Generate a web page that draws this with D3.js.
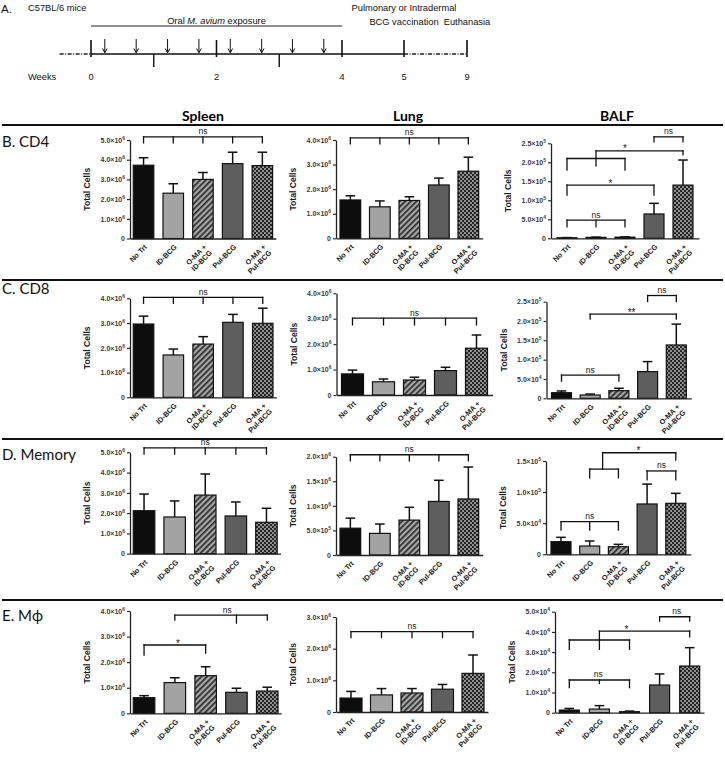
<!DOCTYPE html>
<html><head><meta charset="utf-8">
<script src="https://cdn.jsdelivr.net/npm/d3@7"></script>
<style>body{margin:0;background:#fff} svg{display:block}</style>
</head><body>
<script>
// ---------------- DATA ----------------
const categories = [["No Trt"],["ID-BCG"],["O-MA +","ID-BCG"],["Pul-BCG"],["O-MA +","Pul-BCG"]];
const columns = ["Spleen","Lung","BALF"];
const rows = ["B. CD4","C. CD8","D. Memory","E. M\u03d5"];

// timeline
const weekLabels = [0,2,4,5,9];
const minorWeeks = [1,3];
const doseWeeks = [0.22,0.72,1.22,1.72,2.22,2.72,3.21,3.71];

// means and SEM (upper error) per panel
const spleenCD4 = [3.72e6,2.30e6,3.00e6,3.80e6,3.70e6];
const spleenCD4Err = [0.38e6,0.48e6,0.35e6,0.58e6,0.68e6];
const lungCD4 = [1.56e6,1.28e6,1.54e6,2.17e6,2.73e6];
const lungCD4Err = [0.17e6,0.24e6,0.15e6,0.28e6,0.57e6];
const balfCD4 = [1500,2500,3000,64000,140000];
const balfCD4Err = [400,600,700,28000,66000];

const spleenCD8 = [2.96e6,1.71e6,2.15e6,3.03e6,2.99e6];
const spleenCD8Err = [0.32e6,0.24e6,0.30e6,0.32e6,0.61e6];
const lungCD8 = [0.83e6,0.52e6,0.59e6,0.96e6,1.84e6];
const lungCD8Err = [0.15e6,0.11e6,0.11e6,0.13e6,0.52e6];
const balfCD8 = [14500,8500,19700,69000,138000];
const balfCD8Err = [4500,2500,6300,26000,54000];

const spleenMem = [2.12e6,1.81e6,2.89e6,1.86e6,1.55e6];
const spleenMemErr = [0.82e6,0.79e6,1.04e6,0.69e6,0.69e6];
const lungMem = [0.545e6,0.44e6,0.71e6,1.09e6,1.14e6];
const lungMemErr = [0.205e6,0.19e6,0.26e6,0.43e6,0.65e6];
const balfMem = [20300,13300,12200,80900,82000];
const balfMemErr = [7000,8100,3800,32000,16000];

const spleenMphi = [0.61e6,1.20e6,1.47e6,0.82e6,0.87e6];
const spleenMphiErr = [0.08e6,0.19e6,0.35e6,0.16e6,0.15e6];
const lungMphi = [0.44e6,0.54e6,0.60e6,0.72e6,1.22e6];
const lungMphiErr = [0.21e6,0.20e6,0.14e6,0.15e6,0.58e6];
const balfMphi = [1300,1800,500,13700,23100];
const balfMphiErr = [800,1700,300,5500,9100];

// tick values
const ticks5M = [0,1e6,2e6,3e6,4e6,5e6];
const ticks4M = [0,1e6,2e6,3e6,4e6];
const ticks3M = [0,1e6,2e6,3e6];
const ticks2M = [0,5e5,1e6,1.5e6,2e6];
const ticks250K = [0,5e4,1e5,1.5e5,2e5,2.5e5];
const ticks150K = [0,5e4,1e5,1.5e5];
const ticks50K = [0,1e4,2e4,3e4,4e4,5e4];

// significance annotations (from/to bar index, level in data units)
const spleenCD4Sig = [{from:0,to:4,y:5.16e6,drops:[[0,6],[1,6],[2,6],[3,6],[4,6]],label:"ns",lx:2}];
const lungCD4Sig = [{from:0,to:4,y:4.09e6,drops:[[0,6],[1,6],[2,6],[3,6],[4,6]],label:"ns",lx:2}];
const balfCD4Sig = [
  {from:3,to:4,y:2.67e5,drops:[[3,5],[4,5]],label:"ns",lx:3.5},
  {from:1,to:4,y:2.30e5,drops:[[1,7.3],[4,4]],label:"*",lx:2},
  {from:0,to:2,y:2.10e5,drops:[[0,11.7],[1,7.4],[2,11.7]]},
  {from:0,to:3,y:1.40e5,drops:[[0,10],[3,10]],label:"*",lx:1.5},
  {from:0,to:2,y:0.48e5,drops:[[0,6.7],[1,6.7],[2,6.7]],label:"ns",lx:1}
];
const spleenCD8Sig = [{from:0,to:4,y:4.04e6,drops:[[0,6],[1,6],[2,6],[3,6],[4,6]],label:"ns",lx:2}];
const lungCD8Sig = [{from:0,to:4,y:3.02e6,drops:[[0,6.7],[1,6.7],[2,6.7],[3,6.7],[4,6.7]],label:"ns",lx:2}];
const balfCD8Sig = [
  {from:3,to:4,y:2.66e5,drops:[[3,6],[4,6]],label:"ns",lx:3.5},
  {from:1,to:4,y:2.18e5,drops:[[1,5],[4,5]],label:"**",lx:2.44},
  {from:0,to:2,y:0.60e5,drops:[[0,6],[2,6]],label:"ns",lx:1}
];
const spleenMemSig = [{from:0,to:4,y:5.22e6,drops:[[0,6.3],[1,6.3],[2,6.3],[3,6.3],[4,6.3]],label:"ns",lx:2}];
const lungMemSig = [{from:0,to:4,y:2.04e6,drops:[[0,6],[1,6],[2,6],[3,6],[4,6]],label:"ns",lx:2}];
const balfMemSig = [
  {from:1.45,to:4,y:1.633e5,drops:[[1.45,16.3],[4,7.3]],label:"*",lx:2.7},
  {from:1,to:2,y:1.37e5,drops:[[1,8.7],[2,8.7]]},
  {from:3,to:4,y:1.34e5,drops:[[3,9],[4,9]],label:"ns",lx:3.5},
  {from:0,to:2,y:0.524e5,drops:[[0,8.3],[1,8.3],[2,8.3]],label:"ns",lx:1}
];
const spleenMphiSig = [
  {from:1,to:4,y:3.84e6,drops:[[1,5],[3,8],[4,5]],label:"ns",lx:2.7},
  {from:0,to:2,y:2.67e6,drops:[[0,10],[2,8]],label:"*",lx:1.1}
];
const lungMphiSig = [{from:0,to:4,y:2.54e6,drops:[[0,6],[1,6],[2,6],[3,6],[4,6]],label:"ns",lx:2}];
const balfMphiSig = [
  {from:3,to:4,y:4.75e4,drops:[[3,4.3],[4,4.3]],label:"ns",lx:3.57},
  {from:1,to:4,y:4.04e4,drops:[[1,9],[4,5.7]],label:"*",lx:1.9},
  {from:0,to:2,y:3.6e4,drops:[[0,9.3],[1,9.3],[2,9.3]]},
  {from:0,to:2,y:1.62e4,drops:[[0,7.7],[1,3.5],[2,7.7]],label:"ns",lx:0.96}
];

// ---------------- LAYOUT / STYLE ----------------
const fills = ["#0d0d0d","#a3a3a3","url(#stripe)","#5e5e5e","url(#check)"];
const panels = [
  {v:spleenCD4,e:spleenCD4Err,t:ticks5M,s:spleenCD4Sig, ax:130,step:29.7,bw:20.5,gap:3.3,yTop:140,y0:238.5},
  {v:lungCD4,e:lungCD4Err,t:ticks4M,s:lungCD4Sig, ax:336,step:29.5,bw:20.7,gap:4,yTop:140,y0:238.3},
  {v:balfCD4,e:balfCD4Err,t:ticks250K,s:balfCD4Sig, ax:551,step:29,bw:20,gap:6,yTop:143.3,y0:238.3},
  {v:spleenCD8,e:spleenCD8Err,t:ticks4M,s:spleenCD8Sig, ax:130,step:29.8,bw:20.5,gap:3.3,yTop:298.3,y0:397.3},
  {v:lungCD8,e:lungCD8Err,t:ticks4M,s:lungCD8Sig, ax:336.5,step:31,bw:22,gap:5,yTop:293.3,y0:395},
  {v:balfCD8,e:balfCD8Err,t:ticks250K,s:balfCD8Sig, ax:546.5,step:28.7,bw:20,gap:5,yTop:301.7,y0:398.3},
  {v:spleenMem,e:spleenMemErr,t:ticks5M,s:spleenMemSig, ax:130,step:30.6,bw:21.5,gap:3.3,yTop:452.3,y0:553.7},
  {v:lungMem,e:lungMemErr,t:ticks2M,s:lungMemSig, ax:336,step:29.5,bw:20.7,gap:4,yTop:456.7,y0:555},
  {v:balfMem,e:balfMemErr,t:ticks150K,s:balfMemSig, ax:546,step:28.7,bw:20,gap:5,yTop:461,y0:554.3},
  {v:spleenMphi,e:spleenMphiErr,t:ticks4M,s:spleenMphiSig, ax:130,step:30.8,bw:21.5,gap:3.3,yTop:611,y0:713.3},
  {v:lungMphi,e:lungMphiErr,t:ticks3M,s:lungMphiSig, ax:336,step:30.5,bw:22,gap:4,yTop:617,y0:712},
  {v:balfMphi,e:balfMphiErr,t:ticks50K,s:balfMphiSig, ax:555,step:30.1,bw:20,gap:4.3,yTop:611.7,y0:712.7}
];
const FONT = "'Liberation Sans', Arial, sans-serif";
const NARROW = "'Liberation Sans Narrow','Arial Narrow','Liberation Sans',sans-serif";
const HEAD = "Lato, 'Open Sans', sans-serif";

const svg = d3.select("body").append("svg").attr("width",725).attr("height",760)
  .style("font-family",FONT);
const defs = svg.append("defs");
const sp = defs.append("pattern").attr("id","stripe").attr("patternUnits","userSpaceOnUse")
  .attr("width",4).attr("height",4).attr("patternTransform","rotate(45)");
sp.append("rect").attr("width",4).attr("height",4).attr("fill","#a6a6a6");
sp.append("rect").attr("width",1.7).attr("height",4).attr("fill","#2b2b2b");
const cp = defs.append("pattern").attr("id","check").attr("patternUnits","userSpaceOnUse")
  .attr("width",4).attr("height",4);
cp.append("rect").attr("width",4).attr("height",4).attr("fill","#262626");
cp.append("rect").attr("width",2).attr("height",2).attr("fill","#8f8f8f");
cp.append("rect").attr("x",2).attr("y",2).attr("width",2).attr("height",2).attr("fill","#8f8f8f");

// ---------------- TIMELINE ----------------
const tl = d3.scaleLinear().domain([0,4,5,9]).range([91,342,404,467]);
const tg = svg.append("g").style("font-family",NARROW).attr("font-size",9.3).attr("fill","#111");
tg.append("text").attr("x",1).attr("y",12.5).attr("font-size",11.5).text("A.");
tg.append("text").attr("x",28).attr("y",10.7).text("C57BL/6  mice");
tg.append("text").attr("x",28).attr("y",80).text("Weeks");
const oral = tg.append("text").attr("x",tl(2)).attr("y",23.5).attr("text-anchor","middle");
oral.append("tspan").text("Oral ");
oral.append("tspan").attr("font-style","italic").text("M. avium");
oral.append("tspan").text(" exposure");
tg.append("text").attr("x",tl(5)).attr("y",10.5).attr("text-anchor","middle").text("Pulmonary or Intradermal");
tg.append("text").attr("x",tl(5)).attr("y",24.5).attr("text-anchor","middle").text("BCG vaccination");
tg.append("text").attr("x",tl(9)).attr("y",24.5).attr("text-anchor","middle").text("Euthanasia");
tg.append("line").attr("x1",tl(0)).attr("x2",tl(4)).attr("y1",26).attr("y2",26).attr("stroke","#222").attr("stroke-width",1);
tg.append("line").attr("x1",tl(-0.5)).attr("x2",tl(0)).attr("y1",54).attr("y2",54).attr("stroke","#222").attr("stroke-width",1.4).attr("stroke-dasharray","4,1.5,1,1.5");
tg.append("line").attr("x1",tl(0)).attr("x2",tl(5)).attr("y1",54).attr("y2",54).attr("stroke","#111").attr("stroke-width",1.5);
tg.append("line").attr("x1",tl(5)).attr("x2",tl(9)).attr("y1",54).attr("y2",54).attr("stroke","#222").attr("stroke-width",1.4).attr("stroke-dasharray","4,1.5,1,1.5");
weekLabels.forEach(w=>{
  tg.append("line").attr("x1",tl(w)).attr("x2",tl(w)).attr("y1",40).attr("y2",57).attr("stroke","#111").attr("stroke-width",1.6);
  tg.append("text").attr("x",tl(w)).attr("y",80).attr("text-anchor","middle").text(w);
});
minorWeeks.forEach(w=>{
  tg.append("line").attr("x1",tl(w)).attr("x2",tl(w)).attr("y1",54).attr("y2",67).attr("stroke","#111").attr("stroke-width",1.4);
});
doseWeeks.forEach(w=>{
  const x=tl(w);
  tg.append("line").attr("x1",x).attr("x2",x).attr("y1",39).attr("y2",52.5).attr("stroke","#111").attr("stroke-width",1);
  tg.append("path").attr("d",`M${x-2.3},48.5 L${x},52.8 L${x+2.3},48.5`).attr("fill","none").attr("stroke","#111").attr("stroke-width",1);
});

// ---------------- HEADERS ----------------
[["Spleen",203],["Lung",408],["BALF",617]].forEach(([t,x])=>{
  svg.append("text").attr("x",x).attr("y",121).attr("text-anchor","middle")
    .style("font-family",HEAD).attr("font-weight","bold").attr("font-size",14).text(t);
});
[125,280,439,600].forEach(y=>{
  svg.append("line").attr("x1",2).attr("x2",723).attr("y1",y).attr("y2",y).attr("stroke","#111").attr("stroke-width",2);
});
[[rows[0],147],[rows[1],293.5],[rows[2],459.5],[rows[3],620.5]].forEach(([t,y])=>{
  svg.append("text").attr("x",2).attr("y",y).style("font-family",HEAD).attr("font-size",15).attr("fill","#111").text(t);
});

// ---------------- PANELS ----------------
function fmtTick(d){
  const e = Math.floor(Math.log10(d)+1e-9);
  return [(d/Math.pow(10,e)).toFixed(1)+"\u00d710", String(e)];
}
panels.forEach(p=>{
  const g = svg.append("g");
  const max = p.t[p.t.length-1];
  const y = d3.scaleLinear().domain([0,max]).range([p.y0,p.yTop]);
  const x = d3.scaleBand().domain(d3.range(5))
    .range([p.ax, p.ax + 2*p.gap + 4*p.step + p.bw])
    .paddingInner(1 - p.bw/p.step).paddingOuter(p.gap/p.step);
  const cx = i => x(0) + x.bandwidth()/2 + i*x.step();

  // bars
  g.selectAll("rect.bar").data(p.v).join("rect").attr("class","bar")
    .attr("x",(d,i)=>x(i)).attr("width",x.bandwidth())
    .attr("y",d=>y(d)).attr("height",d=>y(0)-y(d))
    .attr("fill",(d,i)=>fills[i]).attr("stroke","#111").attr("stroke-width",1.2);
  // error bars
  p.v.forEach((d,i)=>{
    const yt = y(d+p.e[i]);
    g.append("line").attr("x1",cx(i)).attr("x2",cx(i)).attr("y1",y(d)).attr("y2",yt).attr("stroke","#111").attr("stroke-width",1.5);
    g.append("line").attr("x1",cx(i)-4.8).attr("x2",cx(i)+4.8).attr("y1",yt).attr("y2",yt).attr("stroke","#111").attr("stroke-width",1.5);
  });

  // axes
  const ya = g.append("g").attr("transform",`translate(${p.ax},0)`)
    .call(d3.axisLeft(y).tickValues(p.t).tickSize(3).tickSizeOuter(0).tickPadding(2));
  ya.select(".domain").attr("stroke","#222").attr("stroke-width",1.3);
  ya.selectAll(".tick line").attr("stroke","#222").attr("stroke-width",1.1);
  ya.selectAll(".tick text").attr("font-size",7).attr("font-weight","bold").attr("fill","#3a3a3a")
    .style("font-family",FONT)
    .each(function(d){
      const t = d3.select(this); t.text(null);
      if(d===0){ t.text("0"); return; }
      const [a,b] = fmtTick(d);
      t.append("tspan").text(a);
      t.append("tspan").attr("dy",-3).attr("font-size",5).text(b);
    });
  const xa = g.append("g").attr("transform",`translate(0,${p.y0})`)
    .call(d3.axisBottom(x).tickSize(0).tickSizeOuter(0).tickFormat(""));
  xa.select(".domain").attr("stroke","#222").attr("stroke-width",1.3);

  // x labels
  categories.forEach((lines,i)=>{
    const tx = g.append("text").attr("transform",`translate(${cx(i)+4},${p.y0+9}) rotate(-45)`)
      .attr("text-anchor","end").attr("font-size",7.3).attr("font-weight","bold").attr("fill","#1a1a1a");
    lines.forEach((l,k)=>tx.append("tspan").attr("x",0).attr("dy",k===0?0:8).text(l));
  });
  // y label
  g.append("text").attr("transform",`translate(${p.ax-40},${(p.yTop+p.y0)/2}) rotate(-90)`)
    .attr("text-anchor","middle").attr("font-size",8.6).attr("font-weight","bold").attr("fill","#1a1a1a").text("Total Cells");

  // significance brackets
  p.s.forEach(b=>{
    const yy = y(b.y);
    g.append("line").attr("x1",cx(b.from)).attr("x2",cx(b.to)).attr("y1",yy).attr("y2",yy)
      .attr("stroke","#111").attr("stroke-width",1.3).attr("stroke-linecap","square");
    b.drops.forEach(([i,len])=>{
      g.append("line").attr("x1",cx(i)).attr("x2",cx(i)).attr("y1",yy).attr("y2",yy+len)
        .attr("stroke","#111").attr("stroke-width",1.3).attr("stroke-linecap","square");
    });
    if(b.label){
      const star = b.label.indexOf("*")>=0;
      g.append("text").attr("x",cx(b.lx)).attr("y",star? yy+1.5 : yy-2.5).attr("text-anchor","middle")
        .attr("font-size",star?10:8.5).attr("fill","#222").text(b.label);
    }
  });
});
</script>
</body></html>
